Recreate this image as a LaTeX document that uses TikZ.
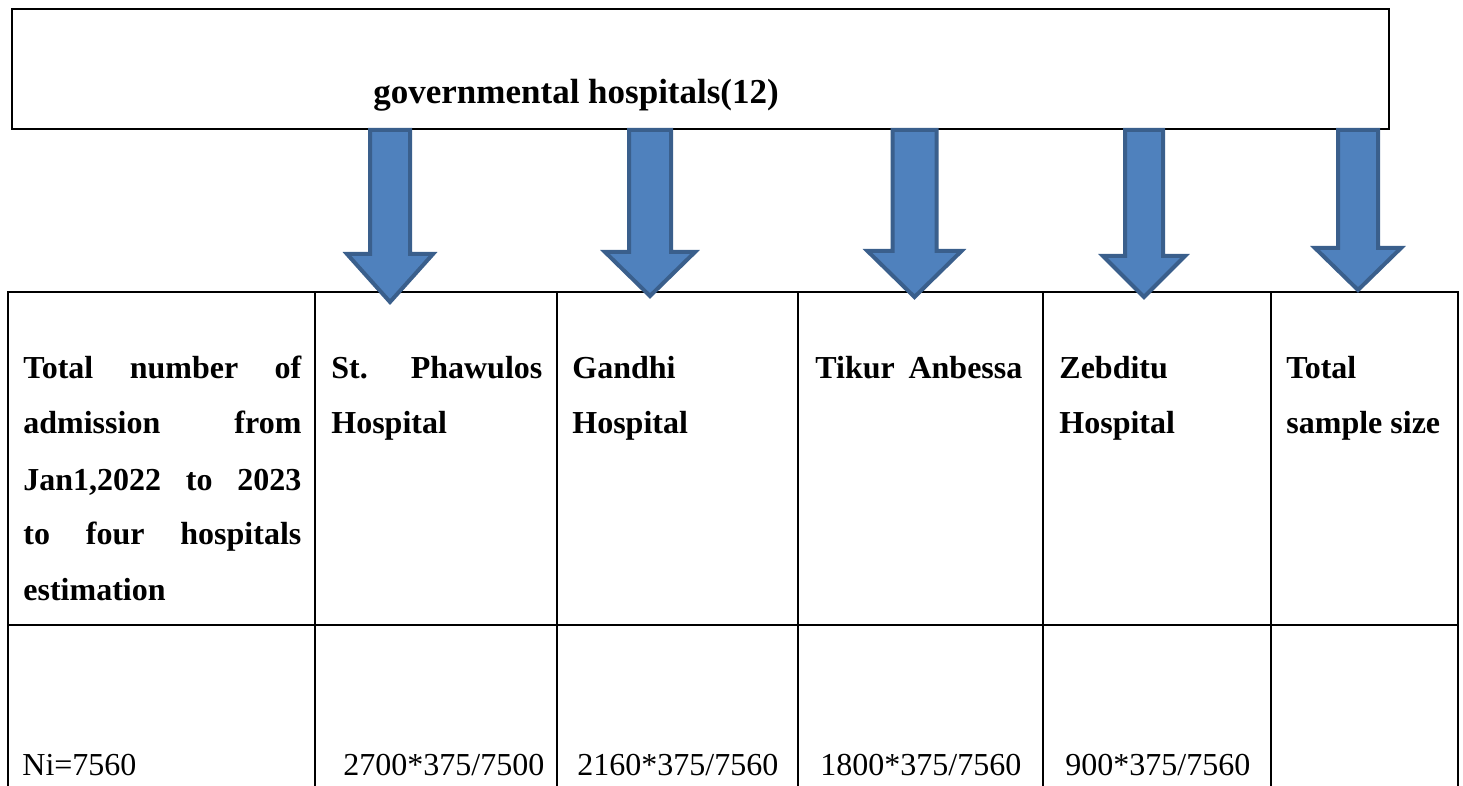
\documentclass[tikz,border=0pt]{standalone}
\usepackage{fontspec}
\setmainfont{Liberation Serif}
\definecolor{arrowfill}{HTML}{4F81BD}
\definecolor{arrowedge}{HTML}{3A5F8C}
\newcommand{\tabfont}{\fontsize{16pt}{18pt}\selectfont}
\newcommand{\titlefont}{\fontsize{17.5pt}{20pt}\selectfont\bfseries}
% block arrow: name, centre x, top y, wing y, tip y, half shaft width, half head width
\newcommand{\blockarr}[7]{%
  \path[blockarrow] (#2-#6,#3) -- (#2+#6,#3) -- (#2+#6,#4) -- (#2+#7,#4)
     -- (#2,#5) -- (#2-#7,#4) -- (#2-#6,#4) -- cycle;
  \coordinate (#1) at (#2,#5);}
\tikzset{
  frame/.style={draw=black, line width=1.1pt},
  grid/.style={draw=black, line width=1pt},
  blockarrow/.style={fill=arrowfill, draw=arrowedge, line width=2pt, line join=miter},
  txt/.style={inner sep=0pt, anchor=base west, font=\tabfont},
  btxt/.style={inner sep=0pt, anchor=base west, font=\tabfont\bfseries},
}
\begin{document}
\begin{tikzpicture}[x=0.5pt,y=-0.5pt]
\useasboundingbox (0,0) rectangle (1463,786);
% top box
\node[frame, minimum width=688.5pt, minimum height=60pt, inner sep=0pt] (topbox) at (700.5,69) {};
\node[inner sep=0pt, anchor=base west, font=\titlefont] (title) at (373,104) {governmental hospitals(12)};
% table
\draw[grid] (8,786) -- (8,292) -- (1458,292) -- (1458,786);
\draw[grid] (8,625) -- (1458,625);
\foreach \xx in {315,557,798,1043,1271} \draw[grid] (\xx,292) -- (\xx,786);
% arrows
\blockarr{a1}{390}{130}{254}{302}{20}{43}
\blockarr{a2}{650}{130}{252}{296}{21}{45}
\blockarr{a3}{914.5}{130}{251}{297}{22}{47}
\blockarr{a4}{1144}{130}{256}{297}{19}{41}
\blockarr{a5}{1358}{130}{248}{290}{20}{43}
% header row
\node[btxt] (h1a) at (23,379) {\makebox[139pt][l]{Total\hfill number\hfill of}};
\node[btxt] (h1b) at (23,434) {\makebox[139pt][l]{admission\hfill from}};
\node[btxt] (h1c) at (23,490) {\makebox[139pt][l]{Jan1,2022\hfill to\hfill 2023}};
\node[btxt] (h1d) at (23,545) {\makebox[139pt][l]{to\hfill four\hfill hospitals}};
\node[btxt] (h1e) at (23,600) {estimation};
\node[btxt] (h2a) at (331,379) {\makebox[105.5pt][l]{St.\hfill Phawulos}};
\node[btxt] (h2b) at (331,434) {Hospital};
\node[btxt] (h3a) at (572,379) {Gandhi};
\node[btxt] (h3b) at (572,434) {Hospital};
\node[btxt] (h4a) at (815,379) {\makebox[103.5pt][l]{Tikur\hfill Anbessa}};
\node[btxt] (h5a) at (1059,379) {Zebditu};
\node[btxt] (h5b) at (1059,434) {Hospital};
\node[btxt] (h6a) at (1286,379) {Total};
\node[btxt] (h6b) at (1286,434) {sample size};
% value row
\node[txt] (v1) at (22,775) {Ni=7560};
\node[txt] (v2) at (343,775) {2700*375/7500};
\node[txt] (v3) at (577,775) {2160*375/7560};
\node[txt] (v4) at (820,775) {1800*375/7560};
\node[txt] (v5) at (1065,775) {900*375/7560};
\end{tikzpicture}
\end{document}
